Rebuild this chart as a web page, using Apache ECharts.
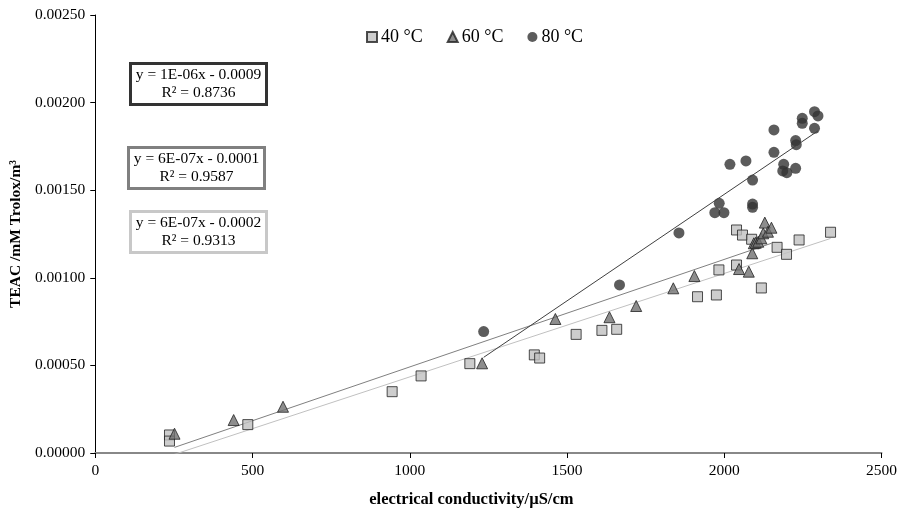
<!DOCTYPE html>
<html><head><meta charset="utf-8">
<script src="https://cdn.jsdelivr.net/npm/echarts@6/dist/echarts.min.js"></script>
<style>html,body{margin:0;padding:0;background:#fff}#c{width:900px;height:515px}</style>
</head><body><div id="c"></div>
<script>
const xTicks = [0, 500, 1000, 1500, 2000, 2500];
const seriesNames = ['40 °C', '60 °C', '80 °C'];
const ec40 = [236,236,485,944,1036,1191,1396,1413,1529,1611,1658,1915,1975,1983,2039,2039,2058,2087,2118,2168,2198,2238,2338];
const teac40 = [0.000103,0.000068,0.000162,0.00035,0.00044,0.00051,0.00056,0.000542,0.000677,0.0007,0.000706,0.000892,0.000902,0.001045,0.001073,0.001273,0.001244,0.00122,0.000942,0.001174,0.001134,0.001216,0.00126];
const ec60 = [252,440,597,1230,1463,1635,1720,1838,1905,2047,2078,2089,2094,2100,2108,2118,2124,2129,2139,2150];
const teac60 = [0.00011,0.000188,0.000264,0.000512,0.000765,0.000775,0.000839,0.00094,0.00101,0.00105,0.001035,0.00114,0.001197,0.0012,0.001206,0.001225,0.001254,0.001315,0.001263,0.001286];
const ec80 = [1235,1667,1856,1970,1984,1999,2018,2069,2090,2090,2090,2158,2158,2186,2189,2199,2227,2227,2229,2248,2248,2287,2287,2298];
const teac80 = [0.000693,0.000959,0.001256,0.001372,0.001425,0.001372,0.001648,0.001667,0.001558,0.001421,0.001402,0.001844,0.001716,0.00161,0.001648,0.0016,0.001625,0.001783,0.00176,0.00191,0.001882,0.001853,0.001948,0.001924];
const eqText = ['y = 1E-06x - 0.0009\nR² = 0.8736', 'y = 6E-07x - 0.0001\nR² = 0.9587', 'y = 6E-07x - 0.0002\nR² = 0.9313'];

function zip(a, b) { return a.map((v, i) => [v, b[i]]); }
function trend(xs, ys) {
  const n = xs.length;
  const mx = xs.reduce((s, v) => s + v, 0) / n, my = ys.reduce((s, v) => s + v, 0) / n;
  let sxy = 0, sxx = 0;
  for (let i = 0; i < n; i++) { sxy += (xs[i] - mx) * (ys[i] - my); sxx += (xs[i] - mx) ** 2; }
  const b = sxy / sxx, a = my - b * mx;
  const x0 = Math.min(...xs), x1 = Math.max(...xs);
  return [[x0, a + b * x0], [x1, a + b * x1]];
}
const FONT = '"Liberation Serif","Times New Roman",serif';
const chart = echarts.init(document.getElementById('c'));
function box(left, top, color, width, text) {
  return {
    type: 'group', left: left, top: top, children: [
      { type: 'rect', shape: { x: 0, y: 0, width: 136, height: 41 }, style: { fill: '#fff', stroke: color, lineWidth: width } },
      { type: 'text', x: 68, y: 20.5, style: { text: text, font: '15.5px ' + FONT, fill: '#000', textAlign: 'center', textVerticalAlign: 'middle', lineHeight: 18 } }
    ]
  };
}
chart.setOption({
  animation: false,
  backgroundColor: '#fff',
  grid: { left: 94, right: 18, top: 15, bottom: 62 },
  legend: {
    data: seriesNames, top: 23, left: 361, itemGap: 24, itemWidth: 10, itemHeight: 10,
    textStyle: { fontFamily: FONT, fontSize: 18, color: '#000', padding: [0, 0, 0, -1] }
  },
  xAxis: {
    type: 'value', min: 0, max: 2500, interval: 500,
    name: 'electrical conductivity/µS/cm', nameLocation: 'middle', nameGap: 38,
    nameTextStyle: { fontFamily: FONT, fontSize: 16.5, fontWeight: 'bold', color: '#000', padding: [0, 34, 0, 0] },
    axisLine: { onZero: false, lineStyle: { color: '#888', width: 2 } },
    axisTick: { show: true, length: 5, lineStyle: { color: '#000' } },
    axisLabel: { fontFamily: FONT, fontSize: 15.5, color: '#000', margin: 10, formatter: v => String(v) },
    splitLine: { show: false }
  },
  yAxis: {
    type: 'value', min: 0, max: 0.0025, interval: 0.0005,
    name: 'TEAC /mM Trolox/m³', nameLocation: 'middle', nameGap: 65,
    nameTextStyle: { fontFamily: FONT, fontSize: 15.5, fontWeight: 'bold', color: '#000' },
    axisLine: { show: true, lineStyle: { color: '#000', width: 1 } },
    axisTick: { show: true, length: 5, lineStyle: { color: '#000' } },
    axisLabel: { fontFamily: FONT, fontSize: 15.5, color: '#000', margin: 10, formatter: v => v.toFixed(5) },
    splitLine: { show: false }
  },
  series: [
    { name: seriesNames[0], type: 'scatter', symbol: 'rect', symbolSize: 10, z: 3, data: zip(ec40, teac40),
      itemStyle: { color: '#c0c0c0', borderColor: '#222', borderWidth: 1 } },
    { name: seriesNames[1], type: 'scatter', symbol: 'triangle', symbolSize: 11, z: 4, data: zip(ec60, teac60),
      itemStyle: { color: '#707070', borderColor: '#222', borderWidth: 1 } },
    { name: seriesNames[2], type: 'scatter', symbol: 'circle', symbolSize: 11, z: 5, data: zip(ec80, teac80),
      itemStyle: { color: '#333333' } },
    { type: 'line', data: trend(ec40, teac40), symbol: 'none', silent: true, z: 2, lineStyle: { color: '#c0c0c0', width: 1 } },
    { type: 'line', data: trend(ec60, teac60), symbol: 'none', silent: true, z: 2, lineStyle: { color: '#808080', width: 1 } },
    { type: 'line', data: trend(ec80, teac80), symbol: 'none', silent: true, z: 6, lineStyle: { color: '#404040', width: 1 } }
  ],
  graphic: [
    box(129, 62, '#333333', 3, eqText[0]),
    box(127, 146, '#808080', 3, eqText[1]),
    box(129, 210, '#c8c8c8', 3, eqText[2])
  ]
});
</script></body></html>
